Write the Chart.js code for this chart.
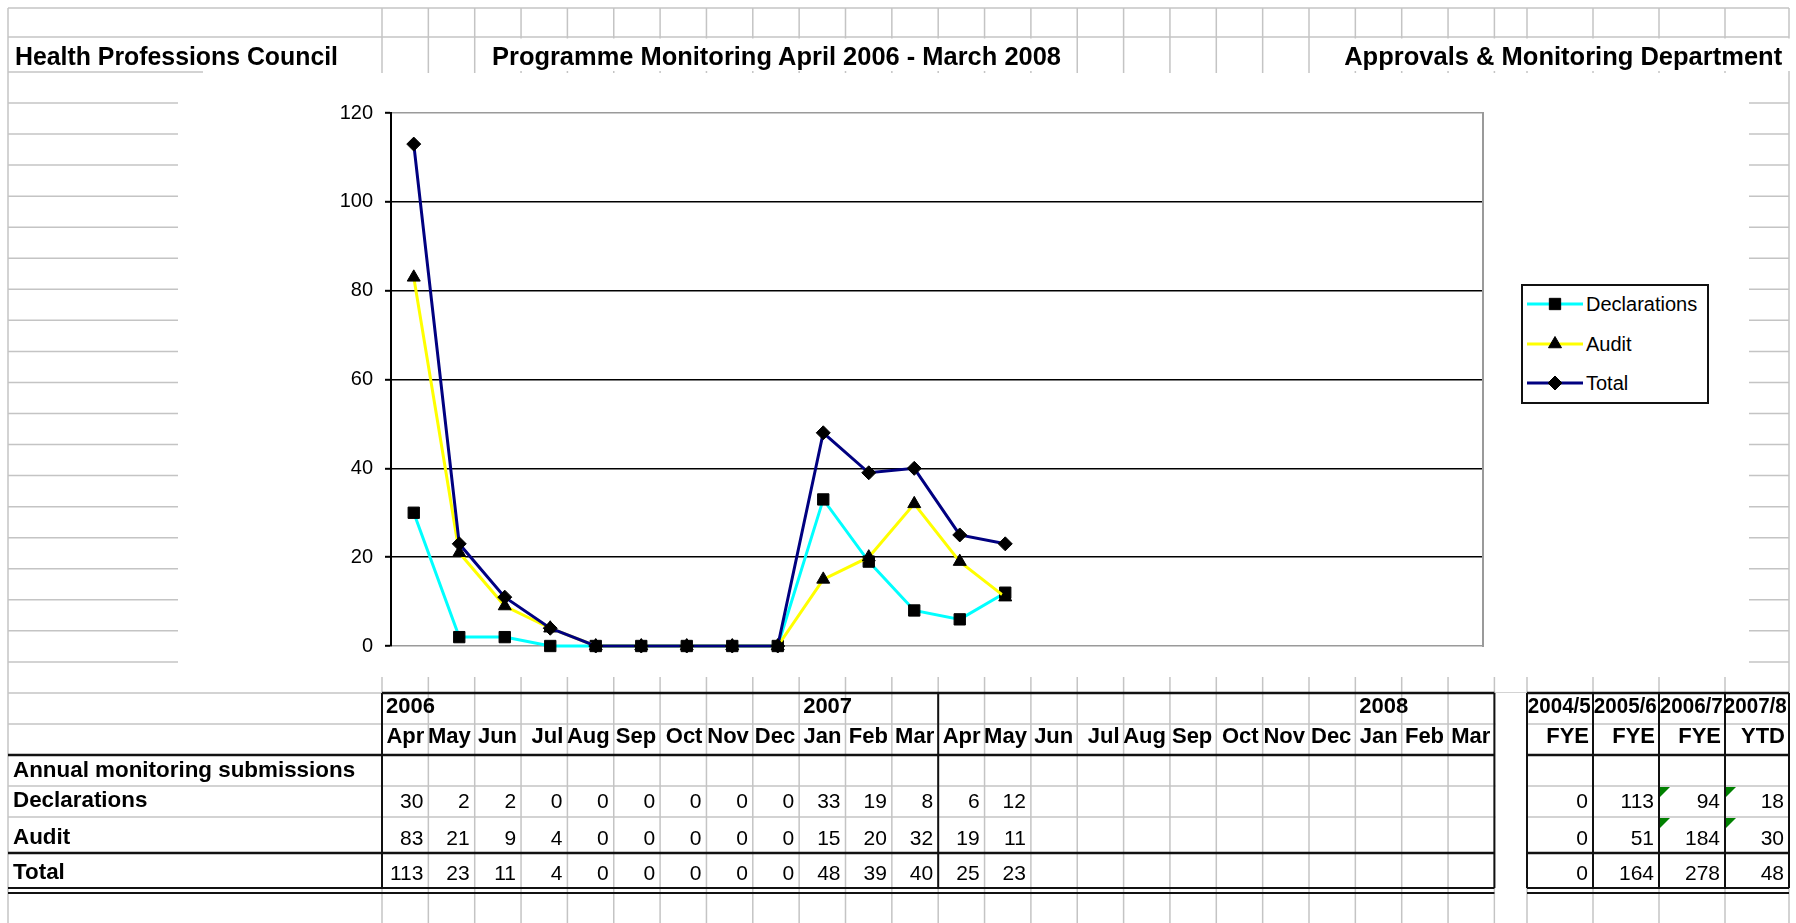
<!DOCTYPE html>
<html>
<head>
<meta charset="utf-8">
<title>Programme Monitoring April 2006 - March 2008</title>
<script src="https://cdn.jsdelivr.net/npm/chart.js@4.4.1/dist/chart.umd.min.js"></script>
<style>
  html, body { margin: 0; padding: 0; background: #fff; }
  body { width: 1796px; height: 923px; position: relative; overflow: hidden;
         font-family: "Liberation Sans", Arial, sans-serif; color: #000; }
  #grid { position: absolute; left: 0; top: 0; }
  #chartBox { position: absolute; left: 178px; top: 73px; width: 1571px; height: 604px; }
  .t { position: absolute; white-space: nowrap; line-height: 1; }
  #legend { position: absolute; left: 1521px; top: 284px; width: 188px; height: 120px;
            box-sizing: border-box; border: 2px solid #111; background: #fff; }
  .lrow { position: absolute; left: 0; height: 20px; width: 184px; }
  .lrow canvas { position: absolute; left: 4px; top: 1px; }
  .lrow span { position: absolute; left: 63px; top: 0; font-size: 20px; line-height: 20px; white-space: nowrap; }
</style>
</head>
<body>
<canvas id="grid" width="1796" height="923"></canvas>
<div id="chartBox"><canvas id="myChart"></canvas></div>
<div id="legend"></div>
<script>
// Data: Apr 2006 .. Mar 2008
const months = ['Apr', 'May', 'Jun', 'Jul', 'Aug', 'Sep', 'Oct', 'Nov', 'Dec', 'Jan', 'Feb', 'Mar',
                'Apr', 'May', 'Jun', 'Jul', 'Aug', 'Sep', 'Oct', 'Nov', 'Dec', 'Jan', 'Feb', 'Mar'];
const yearLabels = ['2006', '', '', '', '', '', '', '', '', '2007', '', '', '', '', '', '', '', '', '', '', '', '2008', '', ''];
const declarations = [30, 2, 2, 0, 0, 0, 0, 0, 0, 33, 19, 8, 6, 12, null, null, null, null, null, null, null, null, null, null];
const audit = [83, 21, 9, 4, 0, 0, 0, 0, 0, 15, 20, 32, 19, 11, null, null, null, null, null, null, null, null, null, null];
const total = [113, 23, 11, 4, 0, 0, 0, 0, 0, 48, 39, 40, 25, 23, null, null, null, null, null, null, null, null, null, null];
const yTicks = [0, 20, 40, 60, 80, 100, 120];

// yearly summary block on the right
const fyYears = ['2004/5', '2005/6', '2006/7', '2007/8'];
const fyKinds = ['FYE', 'FYE', 'FYE', 'YTD'];
const fyDeclarations = [0, 113, 94, 18];
const fyAudit = [0, 51, 184, 30];
const fyTotal = [0, 164, 278, 48];

const rowLabels = ['Annual monitoring submissions', 'Declarations', 'Audit', 'Total'];

// ---- sheet layout ----
const LIGHT = '#c4c4c4';
const colX = i => 382 + i * 46.35;
const fyX = [1527, 1593, 1659, 1725, 1789];

const g = document.getElementById('grid').getContext('2d');
function hl(x1, x2, y, w, c) {
    g.beginPath(); g.lineWidth = w; g.strokeStyle = c;
    g.moveTo(x1, y); g.lineTo(x2, y); g.stroke();
}
function vl(x, y1, y2, w, c) {
    g.beginPath(); g.lineWidth = w; g.strokeStyle = c;
    g.moveTo(x, y1); g.lineTo(x, y2); g.stroke();
}

// light gridlines
hl(8, 1789, 8, 1.5, LIGHT);
hl(8, 1789, 37, 1.5, LIGHT);
hl(8, 203, 72, 1.5, LIGHT);
for (let k = 0; k < 20; k++) hl(8, 1789, 103 + k * 31.05, 1.5, LIGHT);
[724, 786, 817].forEach(y => hl(8, 1789, y, 1.5, LIGHT));
vl(8, 8, 923, 1.5, LIGHT);
for (let i = 0; i <= 24; i++) vl(colX(i), 8, 923, 1.5, LIGHT);
fyX.forEach(x => vl(x, 8, 923, 1.5, LIGHT));

// overflowing titles, chart object and blank column hide the grid
g.fillStyle = '#fff';
g.fillRect(488, 38.5, 577, 32.5);
g.fillRect(1338, 38.5, 458, 32.5);
g.fillRect(178, 73, 1571, 604);
g.fillRect(1495.5, 693, 30.5, 230);

// table borders
const BLK = '#111';
hl(colX(0), colX(24), 693, 2.5, BLK);
hl(fyX[0], fyX[4], 693, 2.5, BLK);
[755, 853].forEach(y => { hl(8, colX(24), y, 2.5, BLK); hl(fyX[0], fyX[4], y, 2.5, BLK); });
[888, 893].forEach(y => { hl(8, colX(24), y, 2, BLK); hl(fyX[0], fyX[4], y, 2, BLK); });
[colX(0), colX(12), colX(24)].forEach(x => vl(x, 693, 888, 2, BLK));
fyX.forEach(x => vl(x, 693, 888, 2, BLK));

// green error markers
g.fillStyle = '#008000';
[[fyX[2], 786], [fyX[3], 786], [fyX[2], 817], [fyX[3], 817]].forEach(([x, y]) => {
    g.beginPath(); g.moveTo(x + 1, y + 1); g.lineTo(x + 11, y + 1); g.lineTo(x + 1, y + 11);
    g.closePath(); g.fill();
});

// ---- texts ----
function txt(str, x, base, opts) {
    const o = opts || {};
    const size = o.size || 22;
    const el = document.createElement('div');
    el.className = 't';
    el.textContent = str;
    el.style.fontSize = size + 'px';
    el.style.fontWeight = o.bold ? 'bold' : 'normal';
    el.style.top = (base - 0.8465 * size) + 'px';
    if (o.right) el.style.right = (1796 - x) + 'px';
    else el.style.left = x + 'px';
    document.body.appendChild(el);
    if (o.fit) {
        const w = el.getBoundingClientRect().width;
        el.style.transformOrigin = o.right ? 'right center' : 'left center';
        el.style.transform = `scaleX(${o.fit / w})`;
    }
    return el;
}

txt('Health Professions Council', 15, 65, { bold: true, size: 25, fit: 323 });
txt('Programme Monitoring April 2006 - March 2008', 492, 65, { bold: true, size: 25, fit: 569 });
txt('Approvals & Monitoring Department', 1782, 65, { bold: true, size: 25, right: true, fit: 438 });

const rowBase = [778, 808, 845, 880];
rowLabels.forEach((s, r) => txt(s, 13, rowBase[r], { bold: true, size: 22.4 }));

months.forEach((m, i) => {
    if (yearLabels[i]) txt(yearLabels[i], colX(i) + 4, 714, { bold: true });
    txt(m, colX(i + 1) - 4, 744, { bold: true, right: true });
    [declarations, audit, total].forEach((arr, r) => {
        if (arr[i] !== null) txt(String(arr[i]), colX(i + 1) - 5, rowBase[r + 1], { size: 21, right: true });
    });
});

fyYears.forEach((y, j) => {
    const xr = fyX[j + 1];
    txt(y, xr - 2, 714, { bold: true, right: true, size: 21.5, fit: 63 });
    txt(fyKinds[j], xr - 4, 744, { bold: true, right: true });
    [fyDeclarations, fyAudit, fyTotal].forEach((arr, r) => {
        txt(String(arr[j]), xr - 5, rowBase[r + 1], { size: 21, right: true });
    });
});

// ---- chart ----
Chart.defaults.font.family = '"Liberation Sans", Arial, sans-serif';
Chart.defaults.color = '#000';

const seriesStyle = [
    { name: 'Declarations', data: declarations, color: '#00ffff', marker: 'rect', radius: 8 },
    { name: 'Audit', data: audit, color: '#ffff00', marker: 'triangle', radius: 7.5 },
    { name: 'Total', data: total, color: '#000080', marker: 'rectRot', radius: 7 }
];

const chart = new Chart(document.getElementById('myChart'), {
    type: 'line',
    data: {
        labels: months,
        datasets: seriesStyle.map((s, i) => ({
            label: s.name,
            data: s.data,
            borderColor: s.color,
            backgroundColor: s.color,
            borderWidth: 3,
            tension: 0,
            pointStyle: s.marker,
            pointRadius: s.radius,
            pointHoverRadius: s.radius,
            pointBackgroundColor: '#000',
            pointBorderColor: '#000',
            pointBorderWidth: 1,
            clip: false,
            order: seriesStyle.length - i
        }))
    },
    options: {
        responsive: true,
        maintainAspectRatio: false,
        animation: false,
        events: [],
        layout: { padding: { left: 153, right: 266, top: 40, bottom: 31 } },
        plugins: { legend: { display: false }, tooltip: { enabled: false } },
        scales: {
            x: { type: 'category', display: false, offset: true },
            y: {
                type: 'linear', min: 0, max: 120,
                afterBuildTicks: s => { s.ticks = yTicks.map(v => ({ value: v })); },
                afterFit: s => { s.width = 60; },
                ticks: { color: '#000', font: { size: 20 }, padding: 12 },
                grid: {
                    color: c => (c.tick && (c.tick.value === 0 || c.tick.value === 120)) ? '#9a9a9a' : '#000',
                    lineWidth: 1.6,
                    tickLength: 6,
                    tickColor: '#000',
                    tickWidth: 2
                },
                border: { color: '#000', width: 2 }
            },
            y2: {
                type: 'linear', position: 'right', display: true,
                ticks: { display: false },
                grid: { display: false },
                border: { color: '#9a9a9a', width: 2 },
                afterFit: s => { s.width = 0; }
            }
        }
    }
});

// legend box beside the plot
const legendEl = document.getElementById('legend');
const legendRowTop = [8, 48, 87];
chart.data.datasets.forEach((ds, i) => {
    const row = document.createElement('div');
    row.className = 'lrow';
    row.style.top = legendRowTop[i] + 'px';
    const c = document.createElement('canvas');
    c.width = 56; c.height = 18;
    const lc = c.getContext('2d');
    lc.strokeStyle = ds.borderColor; lc.lineWidth = 3;
    lc.beginPath(); lc.moveTo(0, 9); lc.lineTo(56, 9); lc.stroke();
    lc.fillStyle = '#000'; lc.strokeStyle = '#000'; lc.lineWidth = 1;
    Chart.helpers.drawPoint(lc, { pointStyle: ds.pointStyle, radius: ds.pointRadius, rotation: 0, borderWidth: 1 }, 28, 9);
    const sp = document.createElement('span');
    sp.textContent = ds.label;
    row.appendChild(c);
    row.appendChild(sp);
    legendEl.appendChild(row);
});
</script>
</body>
</html>
